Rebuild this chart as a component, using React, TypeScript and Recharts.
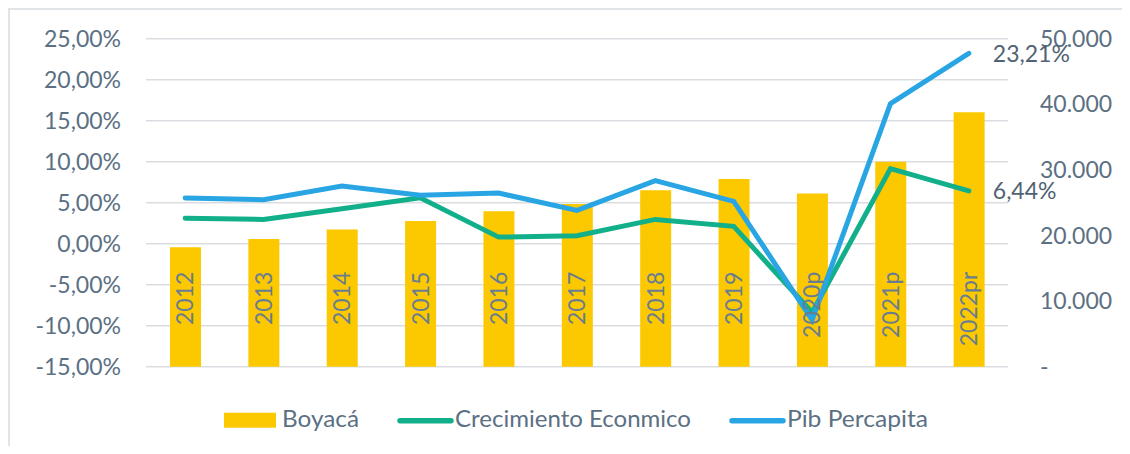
import React from 'react'
import { Bar, CartesianGrid, ComposedChart, LabelList, Legend, Line, XAxis, YAxis } from 'recharts'

const years = ['2012', '2013', '2014', '2015', '2016', '2017', '2018', '2019', '2020p', '2021p', '2022pr']
const boyaca = [18200, 19450, 20900, 22200, 23700, 24800, 26900, 28600, 26400, 31250, 38800]
const crecimiento = [3.09, 2.96, 4.27, 5.6, 0.8, 0.98, 2.96, 2.11, -8.4, 9.15, 6.44]
const pibPercapita = [5.56, 5.37, 7.03, 5.9, 6.17, 4.06, 7.68, 5.16, -9.3, 17.07, 23.21]
const leftTicks = [-15, -10, -5, 0, 5, 10, 15, 20, 25]
const rightTicks = [0, 10000, 20000, 30000, 40000, 50000]

const data = years.map((year, i) => ({
  year,
  boyaca: boyaca[i],
  crecimiento: crecimiento[i],
  pib: pibPercapita[i],
}))

const FONT = 'Lato, "Open Sans", sans-serif'
const TEXT = '#5b7083'
const YELLOW = '#fcc800'
const GREEN = '#12b08a'
const BLUE = '#2aa5e3'

const pct = (v: number) => v.toFixed(2).replace('.', ',') + '%'
const thousands = (v: number) => (v === 0 ? '-' : String(v).replace(/\B(?=(\d{3})+(?!\d))/g, '.'))

const YearTick = (props: any) => {
  const { x, y, payload } = props
  return (
    <text
      transform={`translate(${x},${y - 103}) rotate(-90)`}
      textAnchor="end"
      dy="0.36em"
      fill="#687d90"
      fontSize={23}
      fontFamily={FONT}
    >
      {payload.value}
    </text>
  )
}

const lastLabel = (props: any) => {
  const { x, y, value, index } = props
  if (index !== years.length - 1) return null
  return (
    <text x={x + 24} y={y} dy="0.36em" fill="#4f6374" fontSize={23} fontFamily={FONT}>
      {pct(value)}
    </text>
  )
}

const legendTextWidths = [77, 236, 141]

const LegendContent = (props: any) => {
  const items = props.payload || []
  let cx = 0
  return (
    <svg width={720} height={34} style={{ overflow: 'visible' }}>
      {items.map((item: any, i: number) => {
        const x0 = cx
        cx += 58 + legendTextWidths[i] + 38
        return (
          <g key={item.value}>
            {item.type === 'rect' ? (
              <rect x={x0} y={6.7} width={52} height={15} fill={item.color} />
            ) : (
              <line x1={x0 + 3} x2={x0 + 54} y1={14.7} y2={14.7} stroke={item.color} strokeWidth={5.5} strokeLinecap="round" />
            )}
            <text
              x={x0 + 58}
              y={20.7}
              fill={TEXT}
              fontSize={23}
              fontFamily={FONT}
              textLength={legendTextWidths[i]}
              lengthAdjust="spacingAndGlyphs"
            >
              {item.value}
            </text>
          </g>
        )
      })}
    </svg>
  )
}

export default function App() {
  return (
    <div style={{ borderTop: '2px solid #e1e5e8', borderLeft: '2px solid #e1e5e8', width: 1112 }}>
      <ComposedChart
        width={1112}
        height={436}
        data={data}
        margin={{ top: 28.67, right: 0, left: 0, bottom: 44.33 }}
        barCategoryGap={0}
      >
        <CartesianGrid vertical={false} stroke="#d9dde1" strokeWidth={1.5} yAxisId="left" />
        <XAxis dataKey="year" axisLine={false} tickLine={false} height={1} tick={<YearTick />} interval={0} />
        <YAxis
          yAxisId="left"
          domain={[-15, 25]}
          ticks={leftTicks}
          tickFormatter={pct}
          width={136}
          axisLine={false}
          tickLine={false}
          tickSize={0}
          tickMargin={25}
          tick={{ fill: TEXT, fontSize: 23, fontFamily: FONT }}
        />
        <YAxis
          yAxisId="right"
          orientation="right"
          domain={[0, 50000]}
          ticks={rightTicks}
          tickFormatter={thousands}
          width={114}
          axisLine={false}
          tickLine={false}
          tickSize={0}
          tickMargin={32}
          tick={{ fill: TEXT, fontSize: 23, fontFamily: FONT, textAnchor: 'start' }}
        />
        <Legend
          content={<LegendContent />}
          verticalAlign="bottom"
          height={34}
          wrapperStyle={{ left: 214, top: 396, width: 720 }}
        />
        <Bar yAxisId="right" dataKey="boyaca" name="Boyacá" fill={YELLOW} barSize={31} isAnimationActive={false} legendType="rect" />
        <Line
          yAxisId="left"
          dataKey="crecimiento"
          name="Crecimiento Econmico"
          stroke={GREEN}
          strokeWidth={5}
          strokeLinecap="round"
          dot={false}
          activeDot={false}
          isAnimationActive={false}
        >
          <LabelList dataKey="crecimiento" content={lastLabel} />
        </Line>
        <Line
          yAxisId="left"
          dataKey="pib"
          name="Pib Percapita"
          stroke={BLUE}
          strokeWidth={5}
          strokeLinecap="round"
          dot={false}
          activeDot={false}
          isAnimationActive={false}
        >
          <LabelList dataKey="pib" content={lastLabel} />
        </Line>
      </ComposedChart>
    </div>
  )
}
